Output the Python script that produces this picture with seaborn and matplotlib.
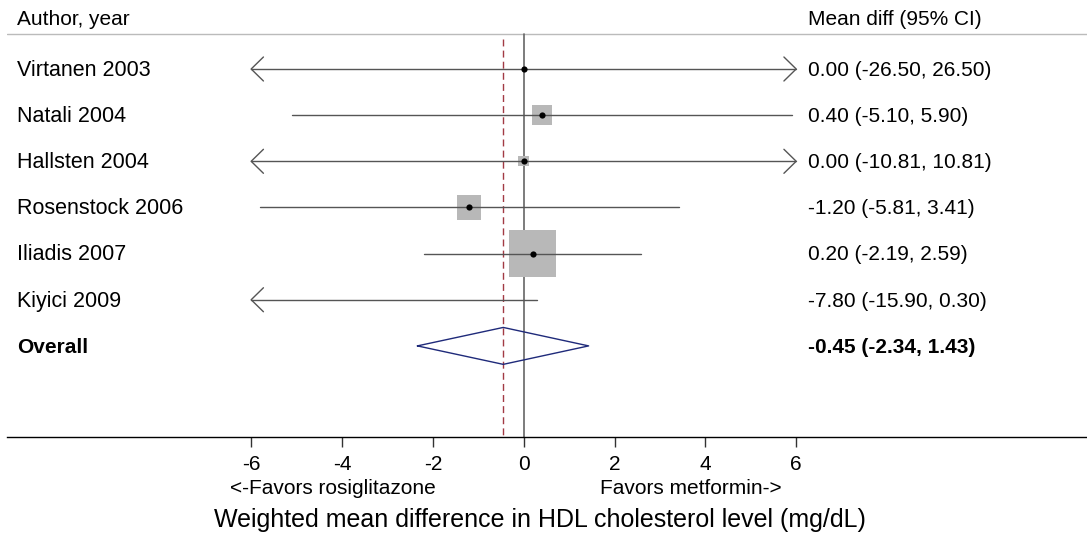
import numpy as np
import pandas as pd
import matplotlib
matplotlib.use("Agg")
import matplotlib.pyplot as plt
import seaborn as sns

# study data
studies = ["Virtanen 2003", "Natali 2004", "Hallsten 2004", "Rosenstock 2006",
           "Iliadis 2007", "Kiyici 2009"]
est = [0.00, 0.40, 0.00, -1.20, 0.20, -7.80]
lo = [-26.50, -5.10, -10.81, -5.81, -2.19, -15.90]
hi = [26.50, 5.90, 10.81, 3.41, 2.59, 0.30]
overall = [-0.45, -2.34, 1.43]
xticks = [-6, -4, -2, 0, 2, 4, 6]

sns.set_style("white")
plt.rcParams["font.family"] = ["Liberation Sans", "DejaVu Sans"]
plt.rcParams["text.color"] = "black"
plt.rcParams["xtick.color"] = "black"

df = pd.DataFrame({"study": studies, "est": est, "lo": lo, "hi": hi})
df["row"] = np.arange(1, len(df) + 1)
# inverse-variance weights (fixed effect) -> box size
se = (df["hi"] - df["lo"]) / 3.92
w = 1 / se**2
df["wfrac"] = w / w.sum()
df["side"] = 59.5 * np.sqrt(df["wfrac"]) * 0.72  # points
df["area"] = df["side"] ** 2
overall_row = len(df) + 1

xmin, xmax = -6, 6

fig = plt.figure(figsize=(10.87, 5.43), dpi=100)
ax = fig.add_axes([7 / 1087, 106 / 543, 1080 / 1087, 437 / 543])
ax.set_xlim(-11.376, 12.403)
ax.set_ylim(8.974, -0.495)

for s in ["top", "left", "right"]:
    ax.spines[s].set_visible(False)
ax.spines["bottom"].set_color("black")
ax.spines["bottom"].set_linewidth(1.0)
ax.set_yticks([])
ax.set_xticks(xticks)
ax.set_xticklabels([str(t) for t in xticks])
ax.tick_params(axis="x", bottom=True, direction="out", length=7, width=1,
               color="#333333", labelcolor="black", labelsize=15, pad=6)

# header separator
ax.axhline(0.248, color="#bbbbbb", lw=1.0)
# null line and overall estimate line
ax.plot([0, 0], [0.248, 8.974], color="#666666", lw=1.2, zorder=2)
ax.plot([overall[0]] * 2, [0.35, 8.974], color="#a23a44", lw=1.0,
        ls=(0, (5, 3)), zorder=2)

# boxes
inside = df[(df["est"] >= xmin) & (df["est"] <= xmax)]
ax.scatter(inside["est"], inside["row"], s=inside["area"], marker="s",
           color="#b8b8b8", linewidths=0, zorder=3)

# CI lines with arrows when clipped
ah_x, ah_y = 0.27, 0.26
for _, r in df.iterrows():
    a = max(r["lo"], xmin)
    b = min(r["hi"], xmax)
    y = r["row"]
    ax.plot([a, b], [y, y], color="#555555", lw=1.0, zorder=4)
    if r["lo"] < xmin:
        ax.plot([a + ah_x, a, a + ah_x], [y - ah_y, y, y + ah_y],
                color="#555555", lw=1.0, zorder=4)
    if r["hi"] > xmax:
        ax.plot([b - ah_x, b, b - ah_x], [y - ah_y, y, y + ah_y],
                color="#555555", lw=1.0, zorder=4)

sns.scatterplot(data=inside, x="est", y="row", ax=ax, color="black",
                s=20, marker="o", linewidth=0, zorder=5, legend=False)
ax.set_xlabel("")
ax.set_ylabel("")

# overall diamond
dh = 0.4
ax.plot([overall[1], overall[0], overall[2], overall[0], overall[1]],
        [overall_row, overall_row - dh, overall_row, overall_row + dh, overall_row],
        color="#1f2a7a", lw=1.0, zorder=4)

# text columns
xl, xr = -11.15, 6.26
ax.text(xl, -0.08, "Author, year", fontsize=15, va="center", ha="left")
ax.text(xr, -0.08, "Mean diff (95% CI)", fontsize=15, va="center", ha="left")
for _, r in df.iterrows():
    ax.text(xl, r["row"] + 0.03, r["study"], fontsize=15.5, va="center", ha="left")
    ax.text(xr, r["row"] + 0.03, f"{r['est']:.2f} ({r['lo']:.2f}, {r['hi']:.2f})",
            fontsize=15, va="center", ha="left")
ax.text(xl, overall_row + 0.03, "Overall", fontsize=15, va="center", ha="left",
        fontweight="bold")
ax.text(xr, overall_row + 0.03,
        f"{overall[0]:.2f} ({overall[1]:.2f}, {overall[2]:.2f})",
        fontsize=15, va="center", ha="left", fontweight="bold")

# favours labels and axis title
ax.text(-4.2, 10.1, "<-Favors rosiglitazone", fontsize=15, ha="center",
        va="center", clip_on=False)
ax.text(3.69, 10.1, "Favors metformin->", fontsize=15, ha="center",
        va="center", clip_on=False)
fig.text(540 / 1087, 1 - 520 / 543,
         "Weighted mean difference in HDL cholesterol level (mg/dL)",
         fontsize=18, ha="center", va="center")

fig.savefig("out.png", dpi=100)
